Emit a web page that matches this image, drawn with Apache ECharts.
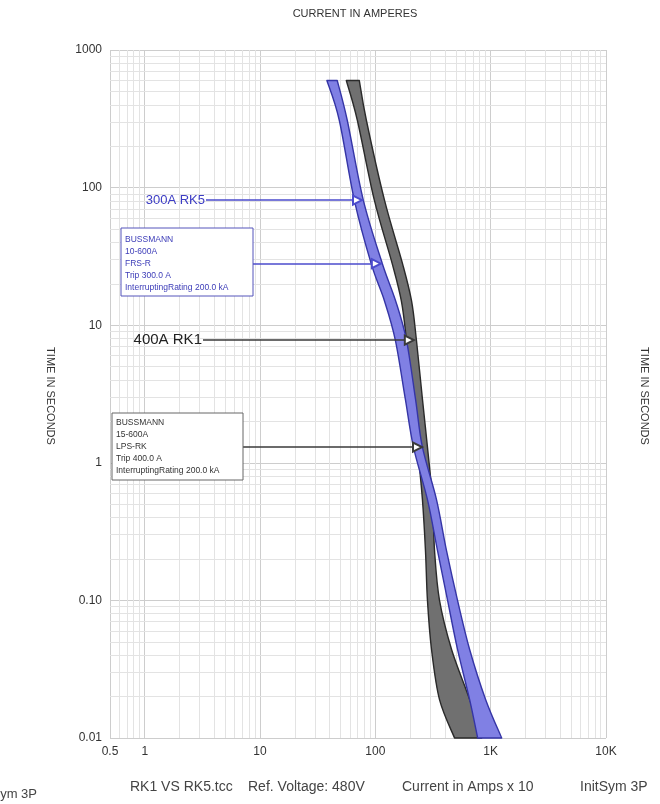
<!DOCTYPE html>
<html><head><meta charset="utf-8">
<script src="https://cdn.jsdelivr.net/npm/echarts@6/dist/echarts.min.js"></script>
<style>html,body{margin:0;padding:0;background:#fff}#c{width:660px;height:804px}</style>
</head><body><div id="c"></div>
<script>
// ---- data (current in amps x10, time in seconds) ----
const TIME_S   = [600, 310, 81, 28, 15, 7.8, 2.9, 1.3, 0.54, 0.23, 0.1, 0.044, 0.019, 0.01];
const RK5_MIN  = [38, 48.6, 65.7, 92, 120, 149, 182, 214, 283, 346, 423, 516, 657, 771];
const RK5_MAX  = [46.7, 57, 78.6, 115, 150, 186, 223, 256, 339, 414, 516, 657, 905, 1246];
const RK1_MIN  = [56, 69.7, 98, 140, 168, 186, 210, 232, 256, 272, 283, 307, 360, 486];
const RK1_MAX  = [72.6, 83.5, 120, 172, 206, 227, 256, 283, 313, 326, 360, 458, 657, 835];
// annotation arrows
const ARROW_TIME = [81, 28, 7.8, 1.3];
const ARROW_TAIL = [3.4, 8.5, 3.2, 7.0];
const ARROW_TIP  = [70, 102, 197, 232];
const ARROW_TEXT = ['300A RK5', '', '400A RK1', ''];
// tick labels
const X_TICK_LABELS = ['0.5', '1', '10', '100', '1K', '10K'];
const Y_TICK_LABELS = ['0.01', '0.10', '1', '10', '100', '1000'];
const BOX_RK5 = ['BUSSMANN', '10-600A', 'FRS-R', 'Trip 300.0 A', 'InterruptingRating 200.0 kA'];
const BOX_RK1 = ['BUSSMANN', '15-600A', 'LPS-RK', 'Trip 400.0 A', 'InterruptingRating 200.0 kA'];
const FOOTER = ['RK1 VS RK5.tcc', 'Ref. Voltage: 480V', 'Current in Amps x 10', 'InitSym 3P'];

const FONT = '"Liberation Sans", Arial, sans-serif';

// minor log grid values (2..9 per decade)
const X_MINOR = [], Y_MINOR = [];
[0.1, 1, 10, 100, 1000].forEach(d => { for (let m = 2; m <= 9; m++) { const v = +(m * d).toPrecision(3); if (v > 0.5 && v < 10000) X_MINOR.push(v); } });
[0.01, 0.1, 1, 10, 100].forEach(d => { for (let m = 2; m <= 9; m++) Y_MINOR.push(+(m * d).toPrecision(3)); });

// Catmull-Rom curve through pixel points (rendering only)
function curveTo(pts) {
  let d = '';
  for (let i = 0; i < pts.length - 1; i++) {
    const p0 = pts[i - 1] || pts[i], p1 = pts[i], p2 = pts[i + 1], p3 = pts[i + 2] || pts[i + 1];
    const c1 = [p1[0] + (p2[0] - p0[0]) / 6, p1[1] + (p2[1] - p0[1]) / 6];
    const c2 = [p2[0] - (p3[0] - p1[0]) / 6, p2[1] - (p3[1] - p1[1]) / 6];
    d += ' C' + c1[0].toFixed(2) + ' ' + c1[1].toFixed(2) + ' ' + c2[0].toFixed(2) + ' ' + c2[1].toFixed(2) + ' ' + p2[0].toFixed(2) + ' ' + p2[1].toFixed(2);
  }
  return d;
}
function band(minArr, maxArr, fill, stroke) {
  return function (params, api) {
    const left = [], right = [];
    for (let i = 0; i < TIME_S.length; i++) left.push(api.coord([minArr[i], TIME_S[i]]));
    for (let i = TIME_S.length - 1; i >= 0; i--) right.push(api.coord([maxArr[i], TIME_S[i]]));
    const d = 'M' + left[0][0] + ' ' + left[0][1] + curveTo(left) +
              ' L' + right[0][0] + ' ' + right[0][1] + curveTo(right) + ' Z';
    return { type: 'path', shape: { pathData: d }, style: { fill: fill, stroke: stroke, lineWidth: 1.4, lineJoin: 'round' } };
  };
}
function arrows(idxs, color, size) {
  return idxs.map(i => [
    { coord: [ARROW_TAIL[i], ARROW_TIME[i]],
      label: { show: !!ARROW_TEXT[i], position: 'start', formatter: ARROW_TEXT[i], color: color, fontSize: size, fontFamily: FONT, distance: 1 } },
    { coord: [ARROW_TIP[i], ARROW_TIME[i]] }
  ]);
}

const chart = echarts.init(document.getElementById('c'), null, { renderer: 'canvas' });
chart.setOption({
  animation: false,
  backgroundColor: '#fff',
  grid: { left: 110, right: 54, top: 50, bottom: 66 },
  xAxis: {
    type: 'log', logBase: 10, min: 0.5, max: 10000, splitNumber: 5,
    axisLine: { show: false }, axisTick: { show: false },
    splitLine: { show: true, lineStyle: { color: '#cdcdcd', width: 1 } },
    axisLabel: {
      showMinLabel: true, showMaxLabel: true, margin: 8, color: '#333', fontSize: 12, fontFamily: FONT,
      formatter: v => v < 0.9 ? X_TICK_LABELS[0] : X_TICK_LABELS[Math.round(Math.log10(v)) + 1]
    }
  },
  yAxis: {
    type: 'log', logBase: 10, min: 0.01, max: 1000, splitNumber: 5,
    axisLine: { show: false }, axisTick: { show: false },
    splitLine: { show: true, lineStyle: { color: '#cdcdcd', width: 1 } },
    axisLabel: {
      showMinLabel: true, showMaxLabel: true, margin: 8, color: '#333', fontSize: 12, fontFamily: FONT,
      formatter: v => Y_TICK_LABELS[Math.round(Math.log10(v)) + 2]
    }
  },
  series: [
    {
      name: 'grid', type: 'line', data: [], silent: true,
      markLine: {
        z: 1, silent: true, symbol: ['none', 'none'], animation: false,
        label: { show: false },
        lineStyle: { color: '#e3e3e3', width: 1, type: 'solid' },
        emphasis: { disabled: true },
        data: X_MINOR.map(v => ({ xAxis: v })).concat(Y_MINOR.map(v => ({ yAxis: v })))
      }
    },
    {
      name: '400A RK1', type: 'custom', z: 3, silent: true,
      data: [[1, 1]], encode: { x: 0, y: 1 },
      renderItem: band(RK1_MIN, RK1_MAX, '#707070', '#2a2a2a'),
      markLine: {
        z: 6, silent: true, symbol: ['none', 'emptyTriangle'], symbolSize: 9,
        lineStyle: { color: '#3a3a3a', width: 1.6, type: 'solid' },
        data: arrows([2, 3], '#222', 15)
      }
    },
    {
      name: '300A RK5', type: 'custom', z: 4, silent: true,
      data: [[1, 1]], encode: { x: 0, y: 1 },
      renderItem: band(RK5_MIN, RK5_MAX, '#8080e4', '#3535a6'),
      markLine: {
        z: 6, silent: true, symbol: ['none', 'emptyTriangle'], symbolSize: 9,
        lineStyle: { color: '#4b4bcc', width: 1.6, type: 'solid' },
        data: arrows([0, 1], '#3c3cc4', 13)
      }
    }
  ],
  graphic: [
    { type: 'text', x: 355, y: 14, style: { text: 'CURRENT IN AMPERES', fill: '#333', font: '11px ' + FONT, align: 'center', verticalAlign: 'middle' } },
    { type: 'text', x: 50, y: 396, rotation: -Math.PI / 2, style: { text: 'TIME IN SECONDS', fill: '#333', font: '11px ' + FONT, align: 'center', verticalAlign: 'middle' } },
    { type: 'text', x: 644, y: 396, rotation: -Math.PI / 2, style: { text: 'TIME IN SECONDS', fill: '#333', font: '11px ' + FONT, align: 'center', verticalAlign: 'middle' } },
    { type: 'rect', z: 10, shape: { x: 121, y: 228, width: 132, height: 68 }, style: { fill: '#fff', stroke: '#5555bb', lineWidth: 1 } },
    { type: 'text', z: 11, x: 125, y: 234, style: { text: BOX_RK5.join('\n'), fill: '#3c3cb8', font: '8.5px ' + FONT, lineHeight: 12, verticalAlign: 'top' } },
    { type: 'rect', z: 10, shape: { x: 112, y: 413, width: 131, height: 67 }, style: { fill: '#fff', stroke: '#666', lineWidth: 1 } },
    { type: 'text', z: 11, x: 116, y: 417, style: { text: BOX_RK1.join('\n'), fill: '#333', font: '8.5px ' + FONT, lineHeight: 12, verticalAlign: 'top' } },
    { type: 'text', x: 130, y: 787, style: { text: FOOTER[0], fill: '#444', font: '14px ' + FONT, verticalAlign: 'middle' } },
    { type: 'text', x: 248, y: 787, style: { text: FOOTER[1], fill: '#444', font: '14px ' + FONT, verticalAlign: 'middle' } },
    { type: 'text', x: 402, y: 787, style: { text: FOOTER[2], fill: '#444', font: '14px ' + FONT, verticalAlign: 'middle' } },
    { type: 'text', x: 580, y: 787, style: { text: FOOTER[3], fill: '#444', font: '14px ' + FONT, verticalAlign: 'middle' } },
    { type: 'text', x: 37, y: 794, style: { text: FOOTER[3], fill: '#444', font: '13px ' + FONT, align: 'right', verticalAlign: 'middle' } }
  ]
});
</script>
</body></html>
